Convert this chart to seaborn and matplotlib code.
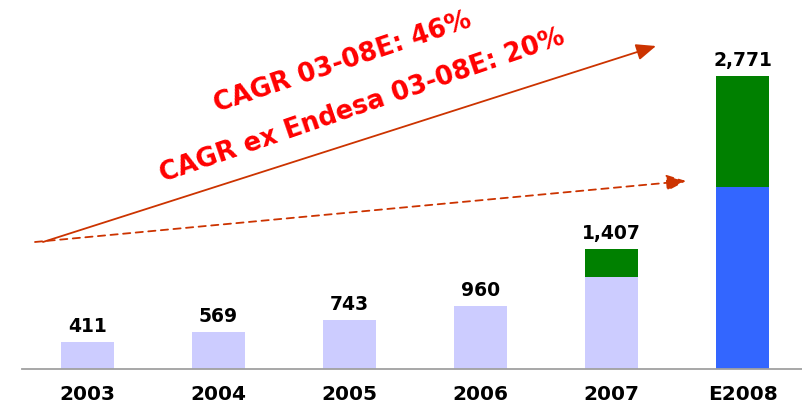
import matplotlib
matplotlib.use("Agg")
import matplotlib.pyplot as plt
import seaborn as sns
import pandas as pd

years = ["2003", "2004", "2005", "2006", "2007", "E2008"]
base = [411, 569, 743, 960, 1407, 2771]
extra = [0, 0, 0, 0, 426, 1685]
labels = ["411", "569", "743", "960", "1,407", "2,771"]
base_colors = ["#CCCCFF", "#CCCCFF", "#CCCCFF", "#CCCCFF", "#CCCCFF", "#3366FF"]
extra_color = "#008000"
cagr_texts = ["CAGR 03-08E: 46%", "CAGR ex Endesa 03-08E: 20%"]

sns.set_style("white")
plt.rcParams["font.family"] = ["DejaVu Sans"]

df = pd.DataFrame({"year": years, "base": base, "extra": extra})

fig = plt.figure(figsize=(8.02, 4.10), dpi=100)
ax = fig.add_axes([22 / 802, 40 / 410, 1 - 22 / 802, 1 - 40 / 410])

sns.barplot(data=df, x="year", y="base", hue="year", palette=base_colors,
            legend=False, width=0.405, saturation=1, linewidth=0, ax=ax)
ax.bar(range(len(years)), df["extra"], bottom=df["base"], width=0.405,
       color=extra_color, linewidth=0)

for i, (b, e, lab) in enumerate(zip(base, extra, labels)):
    ax.annotate(lab, (i, b + e), xytext=(0, 5), textcoords="offset points",
                ha="center", va="bottom", fontsize=13.5, fontweight="bold", color="black")

ax.set_xlim(-0.5, 5.454)
ax.set_ylim(0, 5630)
ax.set_xlabel("")
ax.set_ylabel("")
ax.set_yticks([])
for s in ["left", "top", "right"]:
    ax.spines[s].set_visible(False)
ax.spines["bottom"].set_color("#A0A0A0")
ax.spines["bottom"].set_linewidth(1.3)

ax.set_xticks(range(len(years)))
ax.set_xticklabels(years, fontsize=14.5, fontweight="bold", color="black")
ax.set_xticks([i - 0.5 for i in range(len(years))], minor=True)
ax.tick_params(axis="x", which="major", length=0, pad=11)
ax.tick_params(axis="x", which="minor", length=4, width=1, color="#A0A0A0")

# CAGR arrows (figure pixel coords)
W, H = 802, 410
arrow_col = "#CC3300"
head = "-|>,head_length=1.2,head_width=0.5"
ax.annotate("", xy=(656 / W, 1 - 47 / H), xytext=(43 / W, 1 - 243 / H),
            xycoords="figure fraction", textcoords="figure fraction",
            arrowprops=dict(arrowstyle=head, color=arrow_col, lw=1.3,
                            shrinkA=0, shrinkB=0))
ax.annotate("", xy=(686 / W, 1 - 182 / H), xytext=(35 / W, 1 - 243 / H),
            xycoords="figure fraction", textcoords="figure fraction",
            arrowprops=dict(arrowstyle=head, color=arrow_col, lw=1.3,
                            linestyle=(0, (4, 3)), shrinkA=0, shrinkB=0))

fig.text(343 / W, 1 - 63 / H, cagr_texts[0], color="#FF0000", fontsize=18.5,
         fontweight="bold", rotation=18.5, rotation_mode="anchor",
         ha="center", va="center")
fig.text(362 / W, 1 - 106 / H, cagr_texts[1], color="#FF0000", fontsize=18.5,
         fontweight="bold", rotation=19, rotation_mode="anchor",
         ha="center", va="center")

fig.savefig("out.png", dpi=100)
